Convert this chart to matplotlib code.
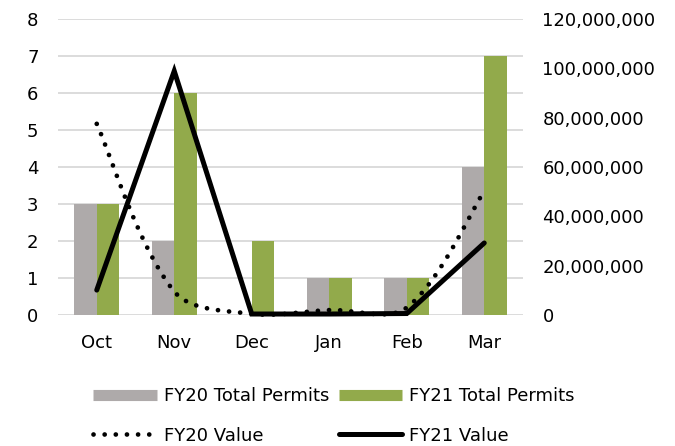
import numpy as np
import matplotlib
matplotlib.use("Agg")
import matplotlib.pyplot as plt
from matplotlib.lines import Line2D
from matplotlib.ticker import FuncFormatter

months = ["Oct", "Nov", "Dec", "Jan", "Feb", "Mar"]
fy20_permits = [3, 2, 0, 1, 1, 4]
fy21_permits = [3, 6, 2, 1, 1, 7]
fy20_value = [77.5e6, 9.5e6, 0.5e6, 2.0e6, 3.0e6, 50.3e6]
fy21_value = [10.1e6, 98.9e6, 0.4e6, 0.4e6, 0.6e6, 29.2e6]

gray = "#AEAAAA"
green = "#92AA4B"
grid_col = "#D9D9D9"
fs = 13
dotted = (0, (0.01, 2.35))

plt.rcParams["font.family"] = "DejaVu Sans"

fig = plt.figure(figsize=(6.75, 4.46), dpi=100)
ax = fig.add_axes([58 / 675, 131 / 446, 465 / 675, 296 / 446])
ax2 = ax.twinx()

x = np.arange(len(months))
w = 0.29
ax.bar(x - w / 2, fy20_permits, w, color=gray, zorder=2)
ax.bar(x + w / 2, fy21_permits, w, color=green, zorder=2)

ax.set_xlim(-0.5, len(months) - 0.5)
ax.set_ylim(0, 8)
ax.set_yticks(range(0, 9))
ax.yaxis.grid(True, color=grid_col, linewidth=1.3, zorder=0)
ax.set_axisbelow(True)
ax.set_xticks(x)
ax.set_xticklabels(months)
for a in (ax, ax2):
    for s in a.spines.values():
        s.set_visible(False)
    a.tick_params(length=0, labelsize=fs)
ax.tick_params(axis="x", pad=14)
ax.tick_params(axis="y", pad=14)
ax2.tick_params(axis="y", pad=14)

ax2.set_ylim(0, 120e6)
ax2.set_yticks(np.arange(0, 120e6 + 1, 20e6))
ax2.yaxis.set_major_formatter(FuncFormatter(lambda v, p: f"{v:,.0f}"))


def smooth(axis, xs, ys, n=40):
    # Excel-like smoothed line computed in display space
    pts = axis.transData.transform(np.column_stack([xs, ys]))
    m = len(pts)
    out = []
    for i in range(m - 1):
        p0 = pts[max(i - 1, 0)]
        p1 = pts[i]
        p2 = pts[i + 1]
        p3 = pts[min(i + 2, m - 1)]
        d01 = np.hypot(*(p1 - p0))
        d12 = np.hypot(*(p2 - p1))
        d23 = np.hypot(*(p3 - p2))
        f1 = d12 / (d01 + d12) / 3 if d01 > 0 else 1 / 6
        f2 = d12 / (d12 + d23) / 3 if d23 > 0 else 1 / 6
        c1 = p1 + (p2 - p0) * f1
        c2 = p2 - (p3 - p1) * f2
        t = np.linspace(0, 1, n)[:, None]
        seg = ((1 - t) ** 3) * p1 + 3 * ((1 - t) ** 2) * t * c1 + 3 * (1 - t) * t ** 2 * c2 + t ** 3 * p2
        out.append(seg if i == 0 else seg[1:])
    out = np.vstack(out)
    data = axis.transData.inverted().transform(out)
    return data[:, 0], data[:, 1]


sx, sy = smooth(ax2, x, fy20_value)
ax2.plot(sx, sy, color="black", linewidth=3.4, linestyle=dotted,
         dash_capstyle="round", clip_on=False, zorder=3)
ax2.plot(x, fy21_value, color="black", linewidth=3.6, solid_capstyle="round",
         solid_joinstyle="miter", clip_on=False, zorder=3)

handles = [
    Line2D([], [], color=gray, linewidth=8, solid_capstyle="butt"),
    Line2D([], [], color="black", linewidth=3.4, linestyle=dotted, dash_capstyle="round"),
    Line2D([], [], color=green, linewidth=8, solid_capstyle="butt"),
    Line2D([], [], color="black", linewidth=3.6, solid_capstyle="round"),
]
labels = ["FY20 Total Permits", "FY20 Value", "FY21 Total Permits", "FY21 Value"]
fig.legend(handles, labels, loc="center", bbox_to_anchor=(0.495, 0.068), ncol=2,
           frameon=False, fontsize=fs, handlelength=3.5, handletextpad=0.4,
           columnspacing=0.55, labelspacing=1.2)

fig.savefig("out.png", dpi=100)
